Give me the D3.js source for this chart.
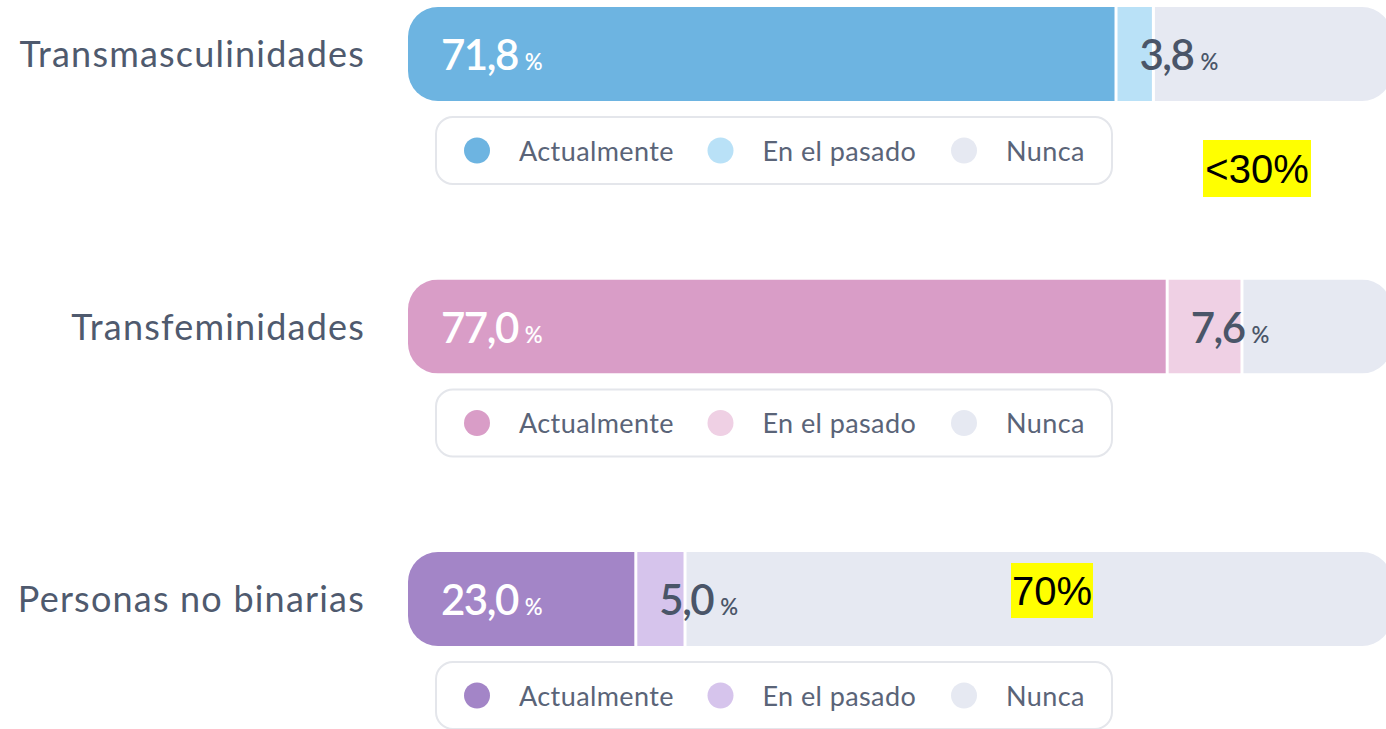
<!DOCTYPE html>
<html>
<head>
<meta charset="utf-8">
<script src="https://cdn.jsdelivr.net/npm/d3@7"></script>
<style>
  html, body { margin: 0; padding: 0; background: #ffffff; }
  svg { display: block; }
</style>
</head>
<body>
<div id="chart"></div>
<script>
// data
var groups = ["Transmasculinidades", "Transfeminidades", "Personas no binarias"];
var categories = ["Actualmente", "En el pasado", "Nunca"];
var actualmente = [71.8, 77.0, 23.0];
var enElPasado = [3.8, 7.6, 5.0];
var nunca = [24.4, 15.4, 72.0];
var notes = ["<30%", "70%"];

// colours per group: actual, past, never
var palettes = [
    ["#6db4e1", "#b9e1f7", "#e6e9f2"],
    ["#d99dc7", "#efd0e4", "#e6e9f2"],
    ["#a385c7", "#d6c4ec", "#e6e9f2"]
];

var width = 1386, height = 729;
var textColor = "#4f5a6e";
var fontFamily = "Lato, 'Open Sans', sans-serif";

var svg = d3.select("#chart").append("svg")
    .attr("width", width)
    .attr("height", height);

var x = d3.scaleLinear().domain([0, 100]).range([408, 1392]);
var y = d3.scaleBand().domain(groups).range([7, 7 + 3 * 272.5]).paddingInner(0);
var barH = 94;
var gap = 3;

var legendX = d3.scalePoint().domain(categories).range([477, 964]);
var fmt = d3.formatLocale({decimal: ",", thousands: ".", grouping: [3], currency: ["", "€"]}).format(".1f");

var rows = groups.map(function(g, i) {
    var vals = [actualmente[i], enElPasado[i], nunca[i]];
    var cum = 0;
    var segs = vals.map(function(v, j) {
        var s = {group: g, cat: categories[j], value: v, x0: cum, x1: cum + v, color: palettes[i][j], idx: j};
        cum += v;
        return s;
    });
    return {group: g, i: i, segs: segs};
});

var defs = svg.append("defs");

rows.forEach(function(r) {
    var top = y(r.group);
    var g = svg.append("g");

    // group label
    g.append("text")
        .attr("x", 365)
        .attr("y", top + barH / 2 + 13)
        .attr("text-anchor", "end")
        .attr("font-family", fontFamily)
        .attr("font-size", 36)
        .attr("letter-spacing", 1.2)
        .attr("fill", textColor)
        .text(r.group);

    // clip for rounded bar
    var clipId = "clip" + r.i;
    defs.append("clipPath").attr("id", clipId)
        .append("rect")
            .attr("x", x(0))
            .attr("y", top)
            .attr("width", x(100) - x(0))
            .attr("height", barH)
            .attr("rx", 30);

    var bar = g.append("g").attr("clip-path", "url(#" + clipId + ")");
    bar.selectAll("rect")
        .data(r.segs)
        .enter()
        .append("rect")
            .attr("x", function(d) { return x(d.x0) + (d.idx > 0 ? gap : 0); })
            .attr("y", top)
            .attr("width", function(d) { return Math.max(0, x(d.x1) - x(d.x0) - (d.idx > 0 ? gap : 0) + (d.idx === 2 ? 20 : 0)); })
            .attr("height", barH)
            .style("fill", function(d) { return d.color; });

    // value labels for actual and past
    var labels = g.selectAll("text.val")
        .data(r.segs.slice(0, 2))
        .enter()
        .append("text")
            .attr("class", "val")
            .attr("x", function(d) { return d.idx === 0 ? x(d.x0) + 33 : x(d.x0) + gap + 22; })
            .attr("y", top + barH / 2 + 16)
            .attr("font-family", fontFamily)
            .attr("fill", function(d) { return d.idx === 0 ? "#ffffff" : "#4a5568"; });
    labels.append("tspan")
        .attr("font-size", 42)
        .attr("font-weight", 600)
        .attr("letter-spacing", -1.5)
        .text(function(d) { return fmt(d.value); });
    labels.append("tspan")
        .attr("dx", 7)
        .attr("font-size", 22)
        .attr("font-weight", 600)
        .text("%");

    // legend box
    var ly = top + barH + 16;
    var lh = 67;
    var lg = g.append("g");
    lg.append("rect")
        .attr("x", 436)
        .attr("y", ly)
        .attr("width", 676)
        .attr("height", lh)
        .attr("rx", 17)
        .attr("fill", "#ffffff")
        .attr("stroke", "#e4e6eb")
        .attr("stroke-width", 2);

    var items = lg.selectAll("g.item")
        .data(r.segs)
        .enter()
        .append("g")
            .attr("class", "item")
            .attr("transform", function(d) { return "translate(" + legendX(d.cat) + "," + (ly + lh / 2) + ")"; });
    items.append("circle")
        .attr("r", 13)
        .attr("fill", function(d) { return d.color; });
    items.append("text")
        .attr("x", 42)
        .attr("y", 10)
        .attr("font-family", fontFamily)
        .attr("font-size", 27)
        .attr("letter-spacing", 0.4)
        .attr("fill", "#5a6478")
        .text(function(d) { return d.cat; });
});

// yellow annotations
var noteAnchors = [
    {x: 1203, y: y(groups[0]) + 133, w: 108, h: 57},
    {x: 1011, y: y(groups[2]) + 11, w: 82, h: 55}
];
notes.forEach(function(t, i) {
    var a = noteAnchors[i];
    svg.append("rect")
        .attr("x", a.x).attr("y", a.y)
        .attr("width", a.w).attr("height", a.h)
        .attr("fill", "#ffff00");
    svg.append("text")
        .attr("x", a.x + a.w / 2)
        .attr("y", a.y + a.h / 2 + 14)
        .attr("text-anchor", "middle")
        .attr("font-family", "'Liberation Sans Narrow', 'Liberation Sans', Arial, sans-serif")
        .attr("font-size", 40)
        .attr("fill", "#000000")
        .text(t);
});
</script>
</body>
</html>
